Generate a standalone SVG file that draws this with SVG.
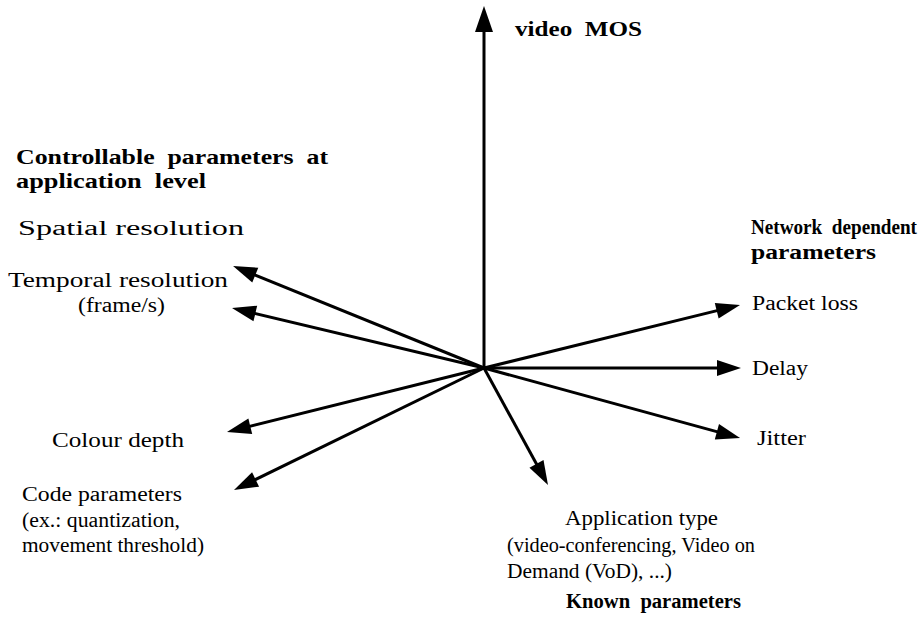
<svg xmlns="http://www.w3.org/2000/svg" width="923" height="619" viewBox="0 0 923 619">
<style>
  .t { font-family: "Liberation Serif", "Times New Roman", Times, serif; font-size: 20px; fill: #000; }
  .b { font-weight: bold; }
  .ax { stroke: #000; stroke-width: 3; fill: none; }
</style>
<defs>
  <marker id="hs" markerUnits="userSpaceOnUse" markerWidth="24" markerHeight="16" refX="14" refY="8" orient="auto" overflow="visible">
    <path d="M0,0 L24,8 L0,16 Z" fill="#000"/>
  </marker>
  <marker id="hb" markerUnits="userSpaceOnUse" markerWidth="26" markerHeight="18" refX="16" refY="9" orient="auto" overflow="visible">
    <path d="M0,0 L26,9 L0,18 Z" fill="#000"/>
  </marker>
</defs>
<rect width="923" height="619" fill="#fff"/>
<g id="connectors">
  <line class="ax" x1="484" y1="368" x2="484" y2="16" marker-end="url(#hb)"/>
  <line class="ax" x1="484" y1="368" x2="242.3" y2="269.8" marker-end="url(#hs)"/>
  <line class="ax" x1="484" y1="368" x2="241.7" y2="310.3" marker-end="url(#hs)"/>
  <line class="ax" x1="484" y1="368" x2="236.7" y2="429.6" marker-end="url(#hs)"/>
  <line class="ax" x1="484" y1="368" x2="243.0" y2="485.6" marker-end="url(#hs)"/>
  <line class="ax" x1="484" y1="368" x2="543.2" y2="476.2" marker-end="url(#hs)"/>
  <line class="ax" x1="484" y1="368" x2="730.3" y2="307.4" marker-end="url(#hs)"/>
  <line class="ax" x1="484" y1="368" x2="731" y2="368" marker-end="url(#hs)"/>
  <line class="ax" x1="484" y1="368" x2="730.4" y2="435.4" marker-end="url(#hs)"/>
</g>
<g id="video-mos">
  <text class="t b" x="515" y="36" textLength="127" lengthAdjust="spacingAndGlyphs" xml:space="preserve">video  MOS</text>
</g>
<g id="controllable">
  <text class="t b" x="16" y="164" textLength="312" lengthAdjust="spacingAndGlyphs" xml:space="preserve">Controllable  parameters  at</text>
  <text class="t b" x="16" y="188" textLength="190" lengthAdjust="spacingAndGlyphs" xml:space="preserve">application  level</text>
</g>
<g id="spatial">
  <text class="t" x="18" y="235" textLength="226" lengthAdjust="spacingAndGlyphs">Spatial resolution</text>
</g>
<g id="temporal">
  <text class="t" x="8" y="287" textLength="220" lengthAdjust="spacingAndGlyphs">Temporal resolution</text>
  <text class="t" x="78" y="312" textLength="87" lengthAdjust="spacingAndGlyphs">(frame/s)</text>
</g>
<g id="colour">
  <text class="t" x="52" y="447" textLength="132" lengthAdjust="spacingAndGlyphs">Colour depth</text>
</g>
<g id="code">
  <text class="t" x="22" y="501" textLength="160" lengthAdjust="spacingAndGlyphs">Code parameters</text>
  <text class="t" x="22" y="527" textLength="158" lengthAdjust="spacingAndGlyphs">(ex.: quantization,</text>
  <text class="t" x="22" y="552" textLength="182" lengthAdjust="spacingAndGlyphs">movement threshold)</text>
</g>
<g id="network">
  <text class="t b" x="751" y="234" textLength="166" lengthAdjust="spacingAndGlyphs" xml:space="preserve">Network  dependent</text>
  <text class="t b" x="751" y="259" textLength="125" lengthAdjust="spacingAndGlyphs">parameters</text>
</g>
<g id="packet-loss">
  <text class="t" x="752" y="310" textLength="106" lengthAdjust="spacingAndGlyphs">Packet loss</text>
</g>
<g id="delay">
  <text class="t" x="752" y="375" textLength="56" lengthAdjust="spacingAndGlyphs">Delay</text>
</g>
<g id="jitter">
  <text class="t" x="757" y="445" textLength="49" lengthAdjust="spacingAndGlyphs">Jitter</text>
</g>
<g id="known">
  <text class="t" x="565" y="525" textLength="153" lengthAdjust="spacingAndGlyphs">Application type</text>
  <text class="t" x="507" y="552" textLength="248" lengthAdjust="spacingAndGlyphs">(video-conferencing, Video on</text>
  <text class="t" x="507" y="578" textLength="165" lengthAdjust="spacingAndGlyphs">Demand (VoD), ...)</text>
  <text class="t b" x="566" y="608" textLength="175" lengthAdjust="spacingAndGlyphs" xml:space="preserve">Known  parameters</text>
</g>
</svg>
